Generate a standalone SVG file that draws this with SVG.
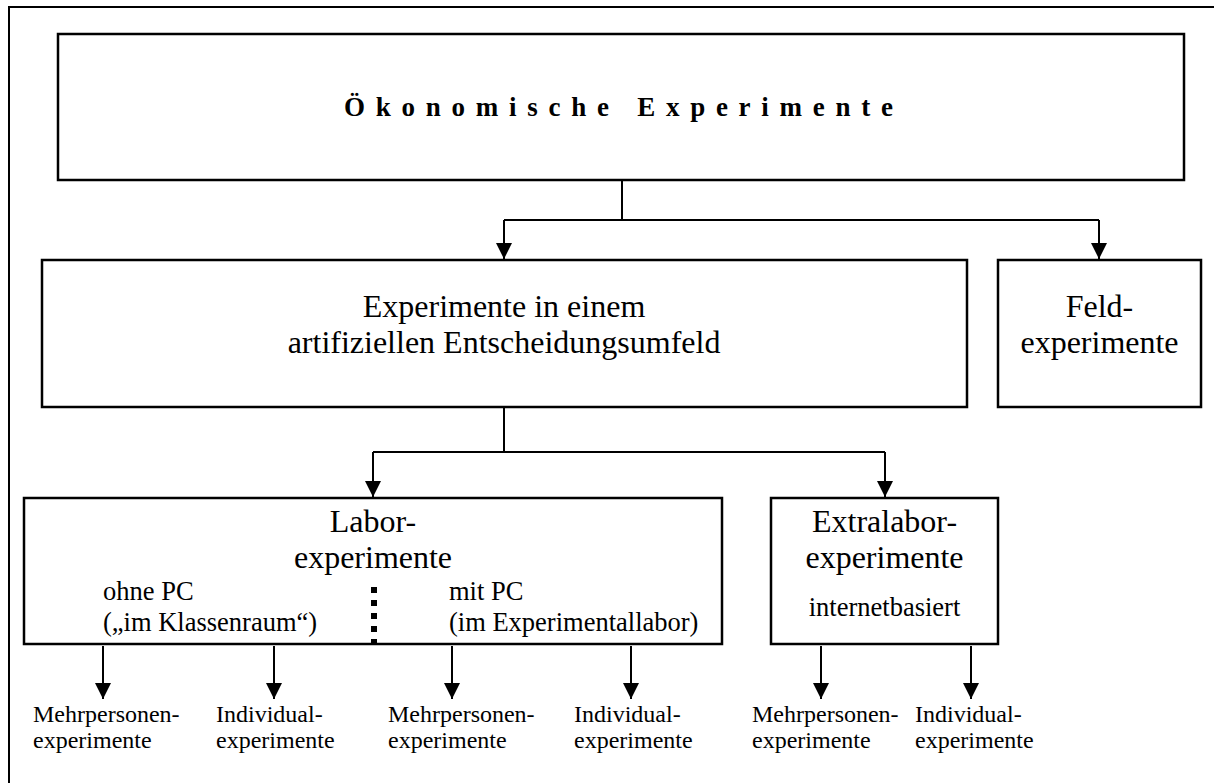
<svg xmlns="http://www.w3.org/2000/svg" width="1214" height="783" viewBox="0 0 1214 783">
<style>
.box{fill:#fff;stroke:#000;stroke-width:2.5}
.con{fill:none;stroke:#000;stroke-width:2}
text{font-family:"Liberation Serif","Times New Roman",serif;fill:#000}
.t32{font-size:32px;text-anchor:middle}
.t26{font-size:26.5px}
.t24{font-size:24px}
.title{font-size:27px;font-weight:bold}
</style>
<defs>
<marker id="arr" viewBox="0 0 16 16" refX="16" refY="8" markerWidth="16" markerHeight="16" markerUnits="userSpaceOnUse" orient="auto">
<path d="M0 0 L16 8 L0 16 Z" fill="#000"/>
</marker>
</defs>
<rect x="0" y="0" width="1214" height="783" fill="#fff"/>
<path d="M9 790 V7 H1220" fill="none" stroke="#000" stroke-width="2"/>

<g id="n-oekonomische">
<rect class="box" x="58" y="34" width="1126" height="146"/>
<text class="title" x="344" y="116" textLength="549" lengthAdjust="spacing">Ökonomische Experimente</text>
</g>

<g id="n-artifiziell">
<rect class="box" x="42" y="260" width="925" height="147"/>
<text class="t32" x="504" y="317">Experimente in einem</text>
<text class="t32" x="504" y="353">artifiziellen Entscheidungsumfeld</text>
</g>

<g id="n-feld">
<rect class="box" x="998" y="260" width="203" height="147"/>
<text class="t32" x="1099.5" y="317">Feld-</text>
<text class="t32" x="1099.5" y="353">experimente</text>
</g>

<g id="n-labor">
<rect class="box" x="24" y="498" width="698" height="146"/>
<text class="t32" x="373" y="532">Labor-</text>
<text class="t32" x="373" y="568">experimente</text>
<text class="t26" x="103" y="600">ohne PC</text>
<text class="t26" x="103" y="631">(„im Klassenraum“)</text>
<text class="t26" x="449" y="600">mit PC</text>
<text class="t26" x="449" y="631">(im Experimentallabor)</text>
<line x1="374" y1="587" x2="374" y2="644" stroke="#000" stroke-width="6" stroke-dasharray="6 7"/>
</g>

<g id="n-extralabor">
<rect class="box" x="771" y="498" width="227" height="146"/>
<text class="t32" x="884.5" y="532">Extralabor-</text>
<text class="t32" x="884.5" y="568">experimente</text>
<text class="t26" x="884.5" y="616" text-anchor="middle">internetbasiert</text>
</g>

<g id="n-labor-ohne-mehr"><text class="t24" x="33" y="722">Mehrpersonen-</text><text class="t24" x="33" y="748">experimente</text></g>
<g id="n-labor-ohne-ind"><text class="t24" x="216" y="722">Individual-</text><text class="t24" x="216" y="748">experimente</text></g>
<g id="n-labor-mit-mehr"><text class="t24" x="388" y="722">Mehrpersonen-</text><text class="t24" x="388" y="748">experimente</text></g>
<g id="n-labor-mit-ind"><text class="t24" x="574" y="722">Individual-</text><text class="t24" x="574" y="748">experimente</text></g>
<g id="n-extra-mehr"><text class="t24" x="752" y="722">Mehrpersonen-</text><text class="t24" x="752" y="748">experimente</text></g>
<g id="n-extra-ind"><text class="t24" x="915" y="722">Individual-</text><text class="t24" x="915" y="748">experimente</text></g>

<g id="connectors">
<path class="con" d="M622 180 V220 M504 220 H1099"/>
<path class="con" d="M504 220 V259" marker-end="url(#arr)"/>
<path class="con" d="M1099 220 V259" marker-end="url(#arr)"/>
<path class="con" d="M504 407 V452 M373 452 H885"/>
<path class="con" d="M373 452 V497" marker-end="url(#arr)"/>
<path class="con" d="M885 452 V497" marker-end="url(#arr)"/>
<path class="con" d="M103 646 V699" marker-end="url(#arr)"/>
<path class="con" d="M274 646 V699" marker-end="url(#arr)"/>
<path class="con" d="M452 646 V699" marker-end="url(#arr)"/>
<path class="con" d="M631 646 V699" marker-end="url(#arr)"/>
<path class="con" d="M821 646 V699" marker-end="url(#arr)"/>
<path class="con" d="M971 646 V699" marker-end="url(#arr)"/>
</g>
</svg>
